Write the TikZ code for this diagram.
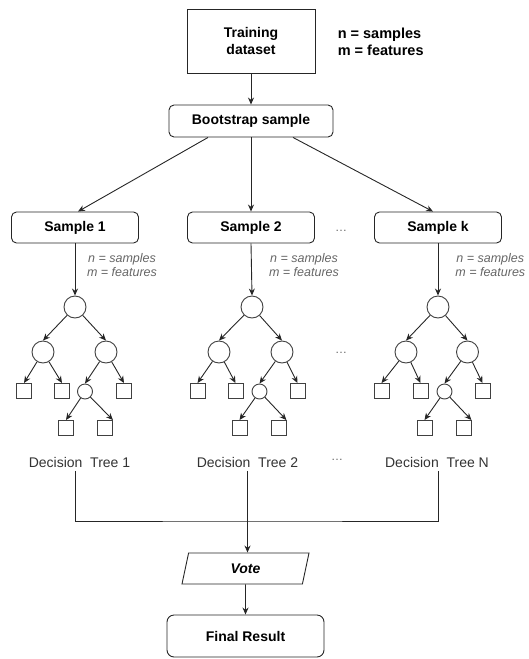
\documentclass[tikz,border=0pt]{standalone}
\usepackage{fontspec}
\setmainfont{Liberation Sans}
\usetikzlibrary{arrows.meta,shapes.geometric}

\begin{document}
\begin{tikzpicture}[x=1pt,y=-1pt,line width=0.9pt,
  box/.style={draw=black!85,rounded corners=5pt,minimum width=127pt,minimum height=31pt,
              align=center,font=\fontsize{14}{16.5}\selectfont\bfseries},
  nd/.style={draw=black!75,circle,minimum size=22pt,inner sep=0pt},
  sm/.style={draw=black!75,circle,minimum size=15pt,inner sep=0pt},
  lf/.style={draw=black!75,minimum size=15pt,inner sep=0pt},
  arr/.style={-{Stealth[length=7pt,width=6pt]},black!85},
  note/.style={align=center,font=\fontsize{12.5}{14}\selectfont\itshape,text=black!60},
  ell/.style={font=\fontsize{12}{14}\selectfont,text=black!60},
  dtext/.style={font=\fontsize{14}{16}\selectfont,text=black!80}]

  \useasboundingbox (0,0) rectangle (529,659);

  \node[box,rounded corners=0pt,minimum width=128pt,minimum height=64pt] (train) at (251,41) {Training\\dataset};
  \node[anchor=west,align=left,font=\fontsize{14.5}{16.5}\selectfont\bfseries] (nm) at (334,42) {n = samples\\m = features};
  \node[box,minimum width=164pt,minimum height=32pt] (boot) at (251,121) {Bootstrap sample};
  \draw[arr] (train)--(boot);

  \node[box] (s1) at (75,227.5)  {Sample 1};
  \node[box] (s2) at (251,227.5) {Sample 2};
  \node[box] (sN) at (438,227.5) {Sample k};
  \draw[arr] ([xshift=-43pt]boot.south)--([xshift=3pt]s1.north);
  \draw[arr] (boot)--(s2);
  \draw[arr] ([xshift=42pt]boot.south)--([xshift=-5pt]sN.north);

  \node[note] (n1) at (122,265) {n = samples\\m = features};
  \node[note] (n2) at (304,265) {n = samples\\m = features};
  \node[note,anchor=east] (nN) at (529,265) {n = samples\\m = features};
  \node[ell] (d1) at (341,231) {\dots};
  \node[ell] (d2) at (341,353) {\dots};
  \node[ell] (d3) at (337,460) {\dots};

  % tree 1
  \node[nd] (r1) at (75,307) {};
  \node[nd] (a1) at (43,352) {}; \node[nd] (b1) at (106,352) {};
  \node[lf] (p1) at (24,391) {}; \node[lf] (q1) at (62,391) {};
  \node[sm] (c1) at (85,391.5) {}; \node[lf] (t1) at (124,391) {};
  \node[lf] (u1) at (66,428) {}; \node[lf] (v1) at (105,428) {};
  \draw[arr] (s1)--(r1); \draw[arr] (r1)--(a1.north); \draw[arr] (r1)--(b1.north);
  \draw[arr] (a1)--(p1.north); \draw[arr] (a1)--(q1.north);
  \draw[arr] (b1)--(c1.north); \draw[arr] (b1)--(t1.north);
  \draw[arr] (c1)--(u1.north); \draw[arr] (c1)--(v1.north east);

  % tree 2
  \node[nd] (r2) at (252,307) {};
  \node[nd] (a2) at (219,352) {}; \node[nd] (b2) at (282,352) {};
  \node[lf] (p2) at (197.5,391) {}; \node[lf] (q2) at (235.5,391) {};
  \node[sm] (c2) at (259.5,391.5) {}; \node[lf] (t2) at (297.5,391) {};
  \node[lf] (u2) at (239.5,428) {}; \node[lf] (v2) at (278.5,428) {};
  \draw[arr] (s2.south)--(r2.north); \draw[arr] (r2)--(a2.north); \draw[arr] (r2)--(b2.north);
  \draw[arr] (a2)--(p2.north); \draw[arr] (a2)--(q2.north);
  \draw[arr] (b2)--(c2.north); \draw[arr] (b2)--(t2.north);
  \draw[arr] (c2)--(u2.north); \draw[arr] (c2)--(v2.north east);

  % tree N
  \node[nd] (rN) at (438,307) {};
  \node[nd] (aN) at (406,352) {}; \node[nd] (bN) at (467.5,352) {};
  \node[lf] (pN) at (381.5,391) {}; \node[lf] (qN) at (420.5,391) {};
  \node[sm] (cN) at (444.5,391.5) {}; \node[lf] (tN) at (482.5,391) {};
  \node[lf] (uN) at (424.5,428) {}; \node[lf] (vN) at (463.5,428) {};
  \draw[arr] (sN)--(rN); \draw[arr] (rN)--(aN.north); \draw[arr] (rN)--(bN.north);
  \draw[arr] (aN)--(pN.north); \draw[arr] (aN)--(qN.north);
  \draw[arr] (bN)--(cN.north); \draw[arr] (bN)--(tN.north);
  \draw[arr] (cN)--(uN.north); \draw[arr] (cN)--(vN.north east);

  \node[dtext] (dt1) at (79.5,462) {Decision~~Tree 1};
  \node[dtext] (dt2) at (247.5,462) {Decision~~Tree 2};
  \node[dtext] (dtN) at (437,462) {Decision~~Tree N};

  \node[trapezium,trapezium left angle=56,trapezium right angle=124,trapezium stretches body,
        draw=black!85,minimum width=127pt,minimum height=31pt,inner sep=0pt,
        font=\fontsize{14}{16}\selectfont\bfseries\itshape] (vote) at (245.5,568.5) {Vote};
  \node[box,rounded corners=7pt,minimum width=157pt,minimum height=42pt] (fin) at (245.5,636) {Final Result};

  \coordinate (join) at (248,521);
  \draw[black!85] (s1 |- dt1.south) |- (join) -| (sN |- dtN.south);
  \draw[arr] (dt2.south)--(dt2.south |- vote.north);
  \draw[arr] (vote)--(fin);
\end{tikzpicture}
\end{document}
